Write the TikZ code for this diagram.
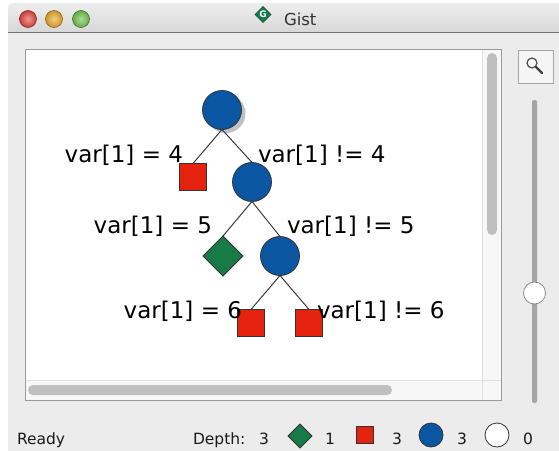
\documentclass[tikz,border=0pt]{standalone}
\usepackage{fontspec}
\setmainfont{DejaVu Sans}
\usetikzlibrary{shapes.geometric}
\definecolor{gblue}{HTML}{0B56A2}
\definecolor{gred}{HTML}{E5220E}
\definecolor{ggreen}{HTML}{187A46}
\definecolor{winbg}{HTML}{ECECEC}
\definecolor{edgec}{HTML}{3A3A3A}
\tikzset{
  every node/.style={inner sep=0pt, outer sep=0pt},
  inner/.style={circle, fill=gblue, draw=black!80, line width=0.8pt, minimum size=39pt},
  failed/.style={rectangle, fill=gred, draw=black!80, line width=0.8pt, minimum size=27pt},
  solved/.style={diamond, aspect=1, fill=ggreen, draw=black!80, line width=0.8pt, minimum size=40pt},
  edgeline/.style={draw=edgec, line width=1pt},
  lbl/.style={font=\fontsize{23}{26}\selectfont, text=black},
  stat/.style={font=\fontsize{15.5}{18}\selectfont, text=black!90},
  lgd/.style={line width=0.8pt, draw=black!80},
}
\begin{document}
\begin{tikzpicture}[x=1pt,y=-1pt]
\useasboundingbox (0,0) rectangle (559,450);
\fill[white] (0,0) rectangle (559,450);
% window
\fill[winbg, rounded corners=5pt] (8,3) rectangle (575,460);
\shade[top color=white!93!black, bottom color=white!82!black, rounded corners=5pt] (8,3) rectangle (575,40);
\fill[winbg] (8,32) rectangle (575,45);
\draw[black!55, line width=0.8pt] (8,32) -- (559,32);
% traffic lights
\foreach \cx/\cc in {28/E0443E, 54/E8A42A, 81/6CBF48}{
  \definecolor{tl}{HTML}{\cc}
  \shade[inner color=tl!55!white, outer color=tl!90!black] (\cx,19) circle (8.5pt);
  \draw[tl!60!black, line width=0.6pt] (\cx,19) circle (8.5pt);
}
% title
\node[diamond, aspect=1, fill=ggreen!85!teal, draw=ggreen!60!black, line width=0.5pt, minimum size=16pt] (gicon) at (263,14.5) {};
\node[font=\bfseries\fontsize{9}{10}\selectfont, text=white] (gletter) at (gicon) {G};
\node[anchor=base west, font=\fontsize{16.5}{19}\selectfont, text=black!80] (title) at (284,25) {Gist};
% canvas panel
\fill[white] (25,49) rectangle (501,400);
\fill[white!97!black] (482,49) rectangle (501,400);
\fill[white!97!black] (25,380) rectangle (501,400);
\draw[black!12, line width=0.6pt] (482,49) -- (482,400);
\draw[black!12, line width=0.6pt] (25,380) -- (501,380);
\fill[black!25, rounded corners=5pt] (487,53) rectangle (497,235);
\fill[black!25, rounded corners=5pt] (28,385) rectangle (392,395);
\draw[black!40, line width=0.8pt] (25,49) rectangle (501,400);
% zoom button and slider
\draw[fill=white!96!black, draw=black!35, line width=0.8pt] (518,50) rectangle (553,83);
\draw[black!70, line width=1.2pt] (532,63) circle (5pt);
\draw[black!75, line width=2.4pt, line cap=round] (536,67) -- (542,73);
\fill[black!35, rounded corners=2pt] (532,100) rectangle (537,403);
\draw[fill=white, draw=black!45, line width=0.8pt] (534.5,293) circle (11pt);
% tree
\fill[black!40, opacity=0.6] (226,113.5) circle (19.5pt);
\node[inner] (n0) at (222,110) {};
\node[failed] (n1) at (193,177) {};
\node[inner] (n2) at (252,182) {};
\node[solved] (n3) at (223,256) {};
\node[inner] (n4) at (280,256) {};
\node[failed] (n5) at (251,323) {};
\node[failed] (n6) at (309,323) {};
\path[edgeline] (n0.south) -- (n1.north);
\path[edgeline] (n0.south) -- (n2.north);
\path[edgeline] (n2.south) -- (n3.north);
\path[edgeline] (n2.south) -- (n4.north);
\path[edgeline] (n4.south) -- (n5.north);
\path[edgeline] (n4.south) -- (n6.north);
\node[lbl, anchor=base east] (l1) at (183,162) {var[1] = 4};
\node[lbl, anchor=base west] (l2) at (258,162) {var[1] != 4};
\node[lbl, anchor=base east] (l3) at (212,233) {var[1] = 5};
\node[lbl, anchor=base west] (l4) at (287,233) {var[1] != 5};
\node[lbl, anchor=base east] (l5) at (242,318) {var[1] = 6};
\node[lbl, anchor=base west] (l6) at (317,318) {var[1] != 6};
% status bar
\node[stat, anchor=base west] (ready) at (17,444) {Ready};
\node[stat, anchor=base west] (depth) at (193,444) {Depth:};
\node[stat, anchor=base] (d1) at (264,444) {3};
\node[lgd, diamond, aspect=1, fill=ggreen, minimum size=24pt] (lg1) at (300,436) {};
\node[stat, anchor=base] (d2) at (330,444) {1};
\node[lgd, rectangle, fill=gred, minimum size=17pt] (lg2) at (365,435) {};
\node[stat, anchor=base] (d3) at (397,444) {3};
\node[lgd, circle, fill=gblue, minimum size=24pt] (lg3) at (431,435) {};
\node[stat, anchor=base] (d4) at (462,444) {3};
\node[lgd, circle, fill=white, minimum size=24pt] (lg4) at (497,435) {};
\node[stat, anchor=base] (d5) at (528,444) {0};
\end{tikzpicture}
\end{document}
